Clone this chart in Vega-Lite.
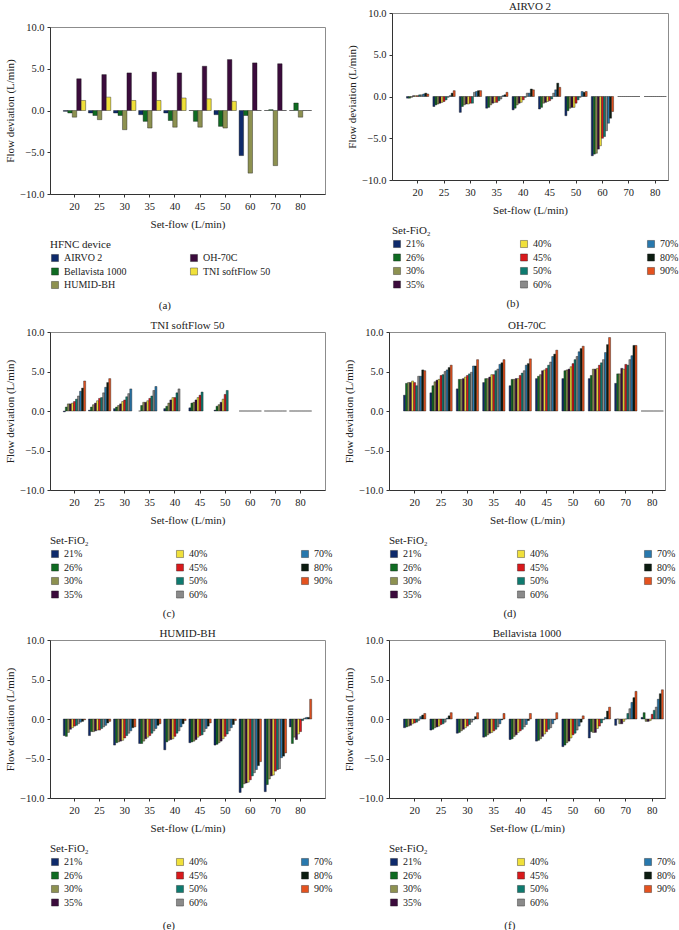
{
"$schema":"https://vega.github.io/schema/vega-lite/v6.json",
"padding":{"left":4,"top":0,"right":0,"bottom":0},
"config":{
"font":"Liberation Serif",
"view":{"stroke":"#8c8c8c","strokeWidth":1},
"axis":{"labelFont":"Liberation Serif","titleFont":"Liberation Serif","labelFontSize":10.5,"titleFontSize":11,"titleFontWeight":"normal","labelColor":"#222","titleColor":"#222","domainColor":"#333","tickColor":"#333","tickSize":3,"labelPadding":3,"grid":false},
"axisX":{"labelAngle":0,"labelPadding":4,"titlePadding":7,"bandPosition":0.5},
"axisY":{"titlePadding":4},
"legend":{"orient":"bottom","offset":9,"titleFont":"Liberation Serif","labelFont":"Liberation Serif","titleFontSize":11,"labelFontSize":10,"titleFontWeight":"normal","titleColor":"#222","labelColor":"#222","symbolType":"square","symbolSize":50,"symbolStrokeColor":"#222","symbolStrokeWidth":1,"rowPadding":3.5,"titlePadding":3,"labelOffset":4,"symbolOpacity":1},
"title":{"font":"Liberation Serif","fontSize":11,"fontWeight":"normal","color":"#222","offset":-4},
"bar":{"stroke":"#151515","strokeWidth":0.4}
},
"datasets":{
"dev":[
{"f":20,"d":"AIRVO 2","v":-0.1},{"f":25,"d":"AIRVO 2","v":-0.3},{"f":30,"d":"AIRVO 2","v":-0.3},{"f":35,"d":"AIRVO 2","v":-0.5},{"f":40,"d":"AIRVO 2","v":-0.3},{"f":45,"d":"AIRVO 2","v":0},{"f":50,"d":"AIRVO 2","v":-0.5},{"f":60,"d":"AIRVO 2","v":-5.4},{"f":70,"d":"AIRVO 2","v":0},{"f":80,"d":"AIRVO 2","v":0},
{"f":20,"d":"Bellavista 1000","v":-0.3},{"f":25,"d":"Bellavista 1000","v":-0.6},{"f":30,"d":"Bellavista 1000","v":-0.6},{"f":35,"d":"Bellavista 1000","v":-1.3},{"f":40,"d":"Bellavista 1000","v":-1.2},{"f":45,"d":"Bellavista 1000","v":-1.3},{"f":50,"d":"Bellavista 1000","v":-1.9},{"f":60,"d":"Bellavista 1000","v":-0.6},{"f":70,"d":"Bellavista 1000","v":0.1},{"f":80,"d":"Bellavista 1000","v":0.9},
{"f":20,"d":"HUMID-BH","v":-0.8},{"f":25,"d":"HUMID-BH","v":-1.1},{"f":30,"d":"HUMID-BH","v":-2.3},{"f":35,"d":"HUMID-BH","v":-2.1},{"f":40,"d":"HUMID-BH","v":-2.0},{"f":45,"d":"HUMID-BH","v":-2.0},{"f":50,"d":"HUMID-BH","v":-2.1},{"f":60,"d":"HUMID-BH","v":-7.5},{"f":70,"d":"HUMID-BH","v":-6.6},{"f":80,"d":"HUMID-BH","v":-0.8},
{"f":20,"d":"OH-70C","v":3.8},{"f":25,"d":"OH-70C","v":4.3},{"f":30,"d":"OH-70C","v":4.5},{"f":35,"d":"OH-70C","v":4.6},{"f":40,"d":"OH-70C","v":4.5},{"f":45,"d":"OH-70C","v":5.3},{"f":50,"d":"OH-70C","v":6.1},{"f":60,"d":"OH-70C","v":5.7},{"f":70,"d":"OH-70C","v":5.6},{"f":80,"d":"OH-70C","v":0},
{"f":20,"d":"TNI softFlow 50","v":1.2},{"f":25,"d":"TNI softFlow 50","v":1.6},{"f":30,"d":"TNI softFlow 50","v":1.2},{"f":35,"d":"TNI softFlow 50","v":1.2},{"f":40,"d":"TNI softFlow 50","v":1.5},{"f":45,"d":"TNI softFlow 50","v":1.4},{"f":50,"d":"TNI softFlow 50","v":1.1},{"f":60,"d":"TNI softFlow 50","v":0},{"f":70,"d":"TNI softFlow 50","v":0},{"f":80,"d":"TNI softFlow 50","v":0}
],
"airvo":[
{"f":20,"o":"21%","v":-0.2},{"f":20,"o":"26%","v":-0.2},{"f":20,"o":"30%","v":-0.1},{"f":20,"o":"35%","v":0.1},{"f":20,"o":"40%","v":0.1},{"f":20,"o":"45%","v":0.1},{"f":20,"o":"50%","v":0.2},{"f":20,"o":"60%","v":0.2},{"f":20,"o":"70%","v":0.3},{"f":20,"o":"80%","v":0.4},{"f":20,"o":"90%","v":0.3},
{"f":25,"o":"21%","v":-1.2},{"f":25,"o":"26%","v":-1.0},{"f":25,"o":"30%","v":-0.9},{"f":25,"o":"35%","v":-0.8},{"f":25,"o":"40%","v":-0.7},{"f":25,"o":"45%","v":-0.6},{"f":25,"o":"50%","v":-0.4},{"f":25,"o":"60%","v":-0.1},{"f":25,"o":"70%","v":0.1},{"f":25,"o":"80%","v":0.4},{"f":25,"o":"90%","v":0.7},
{"f":30,"o":"21%","v":-1.9},{"f":30,"o":"26%","v":-1.2},{"f":30,"o":"30%","v":-1.0},{"f":30,"o":"35%","v":-0.9},{"f":30,"o":"40%","v":-0.9},{"f":30,"o":"45%","v":-0.8},{"f":30,"o":"50%","v":-0.8},{"f":30,"o":"60%","v":0.5},{"f":30,"o":"70%","v":0.6},{"f":30,"o":"80%","v":0.7},{"f":30,"o":"90%","v":0.7},
{"f":35,"o":"21%","v":-1.4},{"f":35,"o":"26%","v":-1.3},{"f":35,"o":"30%","v":-1.0},{"f":35,"o":"35%","v":-0.8},{"f":35,"o":"40%","v":-0.7},{"f":35,"o":"45%","v":-0.7},{"f":35,"o":"50%","v":-0.5},{"f":35,"o":"60%","v":-0.3},{"f":35,"o":"70%","v":0.1},{"f":35,"o":"80%","v":0.2},{"f":35,"o":"90%","v":0.5},
{"f":40,"o":"21%","v":-1.6},{"f":40,"o":"26%","v":-1.4},{"f":40,"o":"30%","v":-1.0},{"f":40,"o":"35%","v":-0.8},{"f":40,"o":"40%","v":-0.7},{"f":40,"o":"45%","v":-0.4},{"f":40,"o":"50%","v":-0.1},{"f":40,"o":"60%","v":0.4},{"f":40,"o":"70%","v":0.4},{"f":40,"o":"80%","v":0.9},{"f":40,"o":"90%","v":0.8},
{"f":45,"o":"21%","v":-1.5},{"f":45,"o":"26%","v":-1.3},{"f":45,"o":"30%","v":-0.8},{"f":45,"o":"35%","v":-0.7},{"f":45,"o":"40%","v":-0.6},{"f":45,"o":"45%","v":-0.5},{"f":45,"o":"50%","v":-0.3},{"f":45,"o":"60%","v":0.4},{"f":45,"o":"70%","v":0.8},{"f":45,"o":"80%","v":1.6},{"f":45,"o":"90%","v":1.1},
{"f":50,"o":"21%","v":-2.3},{"f":50,"o":"26%","v":-1.7},{"f":50,"o":"30%","v":-1.4},{"f":50,"o":"35%","v":-1.3},{"f":50,"o":"40%","v":-1.3},{"f":50,"o":"45%","v":-0.8},{"f":50,"o":"50%","v":-0.4},{"f":50,"o":"60%","v":-0.1},{"f":50,"o":"70%","v":0.6},{"f":50,"o":"80%","v":0.5},{"f":50,"o":"90%","v":0.6},
{"f":60,"o":"21%","v":-7.1},{"f":60,"o":"26%","v":-6.9},{"f":60,"o":"30%","v":-6.8},{"f":60,"o":"35%","v":-6.3},{"f":60,"o":"40%","v":-5.9},{"f":60,"o":"45%","v":-5.0},{"f":60,"o":"50%","v":-4.8},{"f":60,"o":"60%","v":-4.1},{"f":60,"o":"70%","v":-3.2},{"f":60,"o":"80%","v":-2.6},{"f":60,"o":"90%","v":-1.8},
{"f":70,"o":"21%","v":0},{"f":70,"o":"26%","v":0},{"f":70,"o":"30%","v":0},{"f":70,"o":"35%","v":0},{"f":70,"o":"40%","v":0},{"f":70,"o":"45%","v":0},{"f":70,"o":"50%","v":0},{"f":70,"o":"60%","v":0},{"f":70,"o":"70%","v":0},{"f":70,"o":"80%","v":0},{"f":70,"o":"90%","v":0},
{"f":80,"o":"21%","v":0},{"f":80,"o":"26%","v":0},{"f":80,"o":"30%","v":0},{"f":80,"o":"35%","v":0},{"f":80,"o":"40%","v":0},{"f":80,"o":"45%","v":0},{"f":80,"o":"50%","v":0},{"f":80,"o":"60%","v":0},{"f":80,"o":"70%","v":0},{"f":80,"o":"80%","v":0},{"f":80,"o":"90%","v":0}
],
"tni":[
{"f":20,"o":"21%","v":-0.1},{"f":20,"o":"26%","v":0.5},{"f":20,"o":"30%","v":0.9},{"f":20,"o":"35%","v":0.9},{"f":20,"o":"40%","v":1.0},{"f":20,"o":"45%","v":1.2},{"f":20,"o":"50%","v":1.5},{"f":20,"o":"60%","v":1.9},{"f":20,"o":"70%","v":2.5},{"f":20,"o":"80%","v":2.9},{"f":20,"o":"90%","v":3.8},
{"f":25,"o":"21%","v":0.1},{"f":25,"o":"26%","v":0.5},{"f":25,"o":"30%","v":0.8},{"f":25,"o":"35%","v":1.0},{"f":25,"o":"40%","v":1.3},{"f":25,"o":"45%","v":1.6},{"f":25,"o":"50%","v":1.7},{"f":25,"o":"60%","v":2.3},{"f":25,"o":"70%","v":3.0},{"f":25,"o":"80%","v":3.6},{"f":25,"o":"90%","v":4.1},
{"f":30,"o":"21%","v":0.3},{"f":30,"o":"26%","v":0.5},{"f":30,"o":"30%","v":0.7},{"f":30,"o":"35%","v":0.9},{"f":30,"o":"40%","v":1.2},{"f":30,"o":"45%","v":1.4},{"f":30,"o":"50%","v":1.8},{"f":30,"o":"60%","v":2.2},{"f":30,"o":"70%","v":2.8},
{"f":35,"o":"21%","v":0.0},{"f":35,"o":"26%","v":0.7},{"f":35,"o":"30%","v":1.1},{"f":35,"o":"35%","v":1.1},{"f":35,"o":"40%","v":1.3},{"f":35,"o":"45%","v":1.6},{"f":35,"o":"50%","v":1.9},{"f":35,"o":"60%","v":2.6},{"f":35,"o":"70%","v":3.1},
{"f":40,"o":"21%","v":0.3},{"f":40,"o":"26%","v":0.6},{"f":40,"o":"30%","v":1.0},{"f":40,"o":"35%","v":1.4},{"f":40,"o":"40%","v":1.7},{"f":40,"o":"45%","v":1.7},{"f":40,"o":"50%","v":2.3},{"f":40,"o":"60%","v":2.8},
{"f":45,"o":"21%","v":0.4},{"f":45,"o":"26%","v":1.0},{"f":45,"o":"30%","v":1.1},{"f":45,"o":"35%","v":1.4},{"f":45,"o":"40%","v":1.7},{"f":45,"o":"45%","v":2.0},{"f":45,"o":"50%","v":2.4},
{"f":50,"o":"21%","v":0.1},{"f":50,"o":"26%","v":0.6},{"f":50,"o":"30%","v":0.8},{"f":50,"o":"35%","v":1.1},{"f":50,"o":"40%","v":1.5},{"f":50,"o":"45%","v":2.1},{"f":50,"o":"50%","v":2.6},
{"f":60,"o":"21%","v":0},{"f":60,"o":"26%","v":0},{"f":60,"o":"30%","v":0},{"f":60,"o":"35%","v":0},{"f":60,"o":"40%","v":0},{"f":60,"o":"45%","v":0},{"f":60,"o":"50%","v":0},{"f":60,"o":"60%","v":0},{"f":60,"o":"70%","v":0},{"f":60,"o":"80%","v":0},{"f":60,"o":"90%","v":0},
{"f":70,"o":"21%","v":0},{"f":70,"o":"26%","v":0},{"f":70,"o":"30%","v":0},{"f":70,"o":"35%","v":0},{"f":70,"o":"40%","v":0},{"f":70,"o":"45%","v":0},{"f":70,"o":"50%","v":0},{"f":70,"o":"60%","v":0},{"f":70,"o":"70%","v":0},{"f":70,"o":"80%","v":0},{"f":70,"o":"90%","v":0},
{"f":80,"o":"21%","v":0},{"f":80,"o":"26%","v":0},{"f":80,"o":"30%","v":0},{"f":80,"o":"35%","v":0},{"f":80,"o":"40%","v":0},{"f":80,"o":"45%","v":0},{"f":80,"o":"50%","v":0},{"f":80,"o":"60%","v":0},{"f":80,"o":"70%","v":0},{"f":80,"o":"80%","v":0},{"f":80,"o":"90%","v":0}
],
"oh":[
{"f":20,"o":"21%","v":2.0},{"f":20,"o":"26%","v":3.5},{"f":20,"o":"30%","v":3.6},{"f":20,"o":"35%","v":3.6},{"f":20,"o":"40%","v":3.8},{"f":20,"o":"45%","v":3.6},{"f":20,"o":"50%","v":3.2},{"f":20,"o":"60%","v":4.4},{"f":20,"o":"70%","v":4.4},{"f":20,"o":"80%","v":5.2},{"f":20,"o":"90%","v":5.1},
{"f":25,"o":"21%","v":2.3},{"f":25,"o":"26%","v":3.2},{"f":25,"o":"30%","v":3.7},{"f":25,"o":"35%","v":3.9},{"f":25,"o":"40%","v":4.0},{"f":25,"o":"45%","v":4.5},{"f":25,"o":"50%","v":4.6},{"f":25,"o":"60%","v":5.0},{"f":25,"o":"70%","v":5.2},{"f":25,"o":"80%","v":5.5},{"f":25,"o":"90%","v":5.8},
{"f":30,"o":"21%","v":2.8},{"f":30,"o":"26%","v":4.0},{"f":30,"o":"30%","v":4.0},{"f":30,"o":"35%","v":4.1},{"f":30,"o":"40%","v":4.3},{"f":30,"o":"45%","v":4.5},{"f":30,"o":"50%","v":4.7},{"f":30,"o":"60%","v":4.9},{"f":30,"o":"70%","v":5.7},{"f":30,"o":"80%","v":5.7},{"f":30,"o":"90%","v":6.5},
{"f":35,"o":"21%","v":3.6},{"f":35,"o":"26%","v":4.1},{"f":35,"o":"30%","v":4.1},{"f":35,"o":"35%","v":4.3},{"f":35,"o":"40%","v":4.6},{"f":35,"o":"45%","v":4.6},{"f":35,"o":"50%","v":5.1},{"f":35,"o":"60%","v":5.3},{"f":35,"o":"70%","v":5.9},{"f":35,"o":"80%","v":6.1},{"f":35,"o":"90%","v":6.5},
{"f":40,"o":"21%","v":3.2},{"f":40,"o":"26%","v":4.0},{"f":40,"o":"30%","v":4.0},{"f":40,"o":"35%","v":4.1},{"f":40,"o":"40%","v":4.1},{"f":40,"o":"45%","v":4.5},{"f":40,"o":"50%","v":4.8},{"f":40,"o":"60%","v":5.1},{"f":40,"o":"70%","v":5.8},{"f":40,"o":"80%","v":6.0},{"f":40,"o":"90%","v":6.6},
{"f":45,"o":"21%","v":4.1},{"f":45,"o":"26%","v":4.4},{"f":45,"o":"30%","v":4.6},{"f":45,"o":"35%","v":5.1},{"f":45,"o":"40%","v":5.2},{"f":45,"o":"45%","v":5.4},{"f":45,"o":"50%","v":5.8},{"f":45,"o":"60%","v":6.2},{"f":45,"o":"70%","v":6.9},{"f":45,"o":"80%","v":7.2},{"f":45,"o":"90%","v":7.7},
{"f":50,"o":"21%","v":4.1},{"f":50,"o":"26%","v":5.1},{"f":50,"o":"30%","v":5.2},{"f":50,"o":"35%","v":5.3},{"f":50,"o":"40%","v":5.6},{"f":50,"o":"45%","v":6.0},{"f":50,"o":"50%","v":6.5},{"f":50,"o":"60%","v":6.9},{"f":50,"o":"70%","v":7.5},{"f":50,"o":"80%","v":7.9},{"f":50,"o":"90%","v":8.2},
{"f":60,"o":"21%","v":4.1},{"f":60,"o":"26%","v":4.5},{"f":60,"o":"30%","v":5.3},{"f":60,"o":"35%","v":5.3},{"f":60,"o":"40%","v":5.4},{"f":60,"o":"45%","v":5.8},{"f":60,"o":"50%","v":6.1},{"f":60,"o":"60%","v":6.5},{"f":60,"o":"70%","v":7.4},{"f":60,"o":"80%","v":8.4},{"f":60,"o":"90%","v":9.3},
{"f":70,"o":"21%","v":3.5},{"f":70,"o":"26%","v":4.7},{"f":70,"o":"30%","v":4.7},{"f":70,"o":"35%","v":5.4},{"f":70,"o":"40%","v":5.3},{"f":70,"o":"45%","v":5.9},{"f":70,"o":"50%","v":5.8},{"f":70,"o":"60%","v":6.5},{"f":70,"o":"70%","v":7.0},{"f":70,"o":"80%","v":8.3},{"f":70,"o":"90%","v":8.3},
{"f":80,"o":"21%","v":0},{"f":80,"o":"26%","v":0},{"f":80,"o":"30%","v":0},{"f":80,"o":"35%","v":0},{"f":80,"o":"40%","v":0},{"f":80,"o":"45%","v":0},{"f":80,"o":"50%","v":0},{"f":80,"o":"60%","v":0},{"f":80,"o":"70%","v":0},{"f":80,"o":"80%","v":0},{"f":80,"o":"90%","v":0}
],
"humid":[
{"f":20,"o":"21%","v":-2.1},{"f":20,"o":"26%","v":-2.2},{"f":20,"o":"30%","v":-1.7},{"f":20,"o":"35%","v":-1.3},{"f":20,"o":"40%","v":-1.1},{"f":20,"o":"45%","v":-0.9},{"f":20,"o":"50%","v":-0.8},{"f":20,"o":"60%","v":-0.6},{"f":20,"o":"70%","v":-0.4},{"f":20,"o":"80%","v":-0.3},{"f":20,"o":"90%","v":-0.1},
{"f":25,"o":"21%","v":-2.1},{"f":25,"o":"26%","v":-1.6},{"f":25,"o":"30%","v":-1.6},{"f":25,"o":"35%","v":-1.5},{"f":25,"o":"40%","v":-1.4},{"f":25,"o":"45%","v":-1.4},{"f":25,"o":"50%","v":-1.2},{"f":25,"o":"60%","v":-1.0},{"f":25,"o":"70%","v":-0.8},{"f":25,"o":"80%","v":-0.5},{"f":25,"o":"90%","v":-0.3},
{"f":30,"o":"21%","v":-3.3},{"f":30,"o":"26%","v":-3.0},{"f":30,"o":"30%","v":-2.9},{"f":30,"o":"35%","v":-2.8},{"f":30,"o":"40%","v":-2.7},{"f":30,"o":"45%","v":-2.4},{"f":30,"o":"50%","v":-2.1},{"f":30,"o":"60%","v":-1.8},{"f":30,"o":"70%","v":-1.5},{"f":30,"o":"80%","v":-1.1},{"f":30,"o":"90%","v":-1.0},
{"f":35,"o":"21%","v":-3.1},{"f":35,"o":"26%","v":-3.1},{"f":35,"o":"30%","v":-2.8},{"f":35,"o":"35%","v":-2.5},{"f":35,"o":"40%","v":-2.3},{"f":35,"o":"45%","v":-2.1},{"f":35,"o":"50%","v":-1.8},{"f":35,"o":"60%","v":-1.5},{"f":35,"o":"70%","v":-1.2},{"f":35,"o":"80%","v":-0.8},{"f":35,"o":"90%","v":-0.6},
{"f":40,"o":"21%","v":-3.9},{"f":40,"o":"26%","v":-2.9},{"f":40,"o":"30%","v":-2.7},{"f":40,"o":"35%","v":-2.6},{"f":40,"o":"40%","v":-2.5},{"f":40,"o":"45%","v":-2.2},{"f":40,"o":"50%","v":-1.8},{"f":40,"o":"60%","v":-1.5},{"f":40,"o":"70%","v":-1.0},{"f":40,"o":"80%","v":-0.6},{"f":40,"o":"90%","v":-0.2},
{"f":45,"o":"21%","v":-3.0},{"f":45,"o":"26%","v":-2.9},{"f":45,"o":"30%","v":-2.8},{"f":45,"o":"35%","v":-2.6},{"f":45,"o":"40%","v":-2.3},{"f":45,"o":"45%","v":-2.1},{"f":45,"o":"50%","v":-2.0},{"f":45,"o":"60%","v":-1.6},{"f":45,"o":"70%","v":-1.2},{"f":45,"o":"80%","v":-0.9},{"f":45,"o":"90%","v":-0.5},
{"f":50,"o":"21%","v":-3.3},{"f":50,"o":"26%","v":-3.2},{"f":50,"o":"30%","v":-3.0},{"f":50,"o":"35%","v":-2.8},{"f":50,"o":"40%","v":-2.5},{"f":50,"o":"45%","v":-2.2},{"f":50,"o":"50%","v":-1.9},{"f":50,"o":"60%","v":-1.5},{"f":50,"o":"70%","v":-1.1},{"f":50,"o":"80%","v":-0.7},{"f":50,"o":"90%","v":-0.2},
{"f":60,"o":"21%","v":-9.3},{"f":60,"o":"26%","v":-8.7},{"f":60,"o":"30%","v":-8.2},{"f":60,"o":"35%","v":-8.1},{"f":60,"o":"40%","v":-8.0},{"f":60,"o":"45%","v":-7.7},{"f":60,"o":"50%","v":-7.2},{"f":60,"o":"60%","v":-6.8},{"f":60,"o":"70%","v":-6.4},{"f":60,"o":"80%","v":-5.9},{"f":60,"o":"90%","v":-5.4},
{"f":70,"o":"21%","v":-9.2},{"f":70,"o":"26%","v":-8.3},{"f":70,"o":"30%","v":-7.6},{"f":70,"o":"35%","v":-7.2},{"f":70,"o":"40%","v":-7.1},{"f":70,"o":"45%","v":-6.6},{"f":70,"o":"50%","v":-6.4},{"f":70,"o":"60%","v":-6.3},{"f":70,"o":"70%","v":-4.9},{"f":70,"o":"80%","v":-4.7},{"f":70,"o":"90%","v":-4.3},
{"f":80,"o":"21%","v":-1.0},{"f":80,"o":"26%","v":-3.1},{"f":80,"o":"30%","v":-2.3},{"f":80,"o":"35%","v":-2.6},{"f":80,"o":"40%","v":-1.9},{"f":80,"o":"45%","v":-1.6},{"f":80,"o":"50%","v":-0.2},{"f":80,"o":"60%","v":0.1},{"f":80,"o":"70%","v":0.2},{"f":80,"o":"80%","v":0.2},{"f":80,"o":"90%","v":2.5}
],
"bella":[
{"f":20,"o":"21%","v":-1.1},{"f":20,"o":"26%","v":-1.0},{"f":20,"o":"30%","v":-0.9},{"f":20,"o":"35%","v":-0.8},{"f":20,"o":"40%","v":-0.6},{"f":20,"o":"45%","v":-0.5},{"f":20,"o":"50%","v":-0.4},{"f":20,"o":"60%","v":-0.2},{"f":20,"o":"70%","v":0.3},{"f":20,"o":"80%","v":0.5},{"f":20,"o":"90%","v":0.7},
{"f":25,"o":"21%","v":-1.4},{"f":25,"o":"26%","v":-1.3},{"f":25,"o":"30%","v":-1.1},{"f":25,"o":"35%","v":-1.0},{"f":25,"o":"40%","v":-0.9},{"f":25,"o":"45%","v":-0.7},{"f":25,"o":"50%","v":-0.6},{"f":25,"o":"60%","v":-0.4},{"f":25,"o":"70%","v":0.1},{"f":25,"o":"80%","v":0.4},{"f":25,"o":"90%","v":0.8},
{"f":30,"o":"21%","v":-1.8},{"f":30,"o":"26%","v":-1.7},{"f":30,"o":"30%","v":-1.5},{"f":30,"o":"35%","v":-1.3},{"f":30,"o":"40%","v":-1.1},{"f":30,"o":"45%","v":-0.9},{"f":30,"o":"50%","v":-0.7},{"f":30,"o":"60%","v":-0.4},{"f":30,"o":"70%","v":-0.1},{"f":30,"o":"80%","v":0.3},{"f":30,"o":"90%","v":0.8},
{"f":35,"o":"21%","v":-2.3},{"f":35,"o":"26%","v":-2.2},{"f":35,"o":"30%","v":-2.0},{"f":35,"o":"35%","v":-1.8},{"f":35,"o":"40%","v":-1.7},{"f":35,"o":"45%","v":-1.5},{"f":35,"o":"50%","v":-1.3},{"f":35,"o":"60%","v":-1.0},{"f":35,"o":"70%","v":-0.6},{"f":35,"o":"80%","v":-0.1},{"f":35,"o":"90%","v":0.7},
{"f":40,"o":"21%","v":-2.6},{"f":40,"o":"26%","v":-2.5},{"f":40,"o":"30%","v":-2.2},{"f":40,"o":"35%","v":-2.0},{"f":40,"o":"40%","v":-1.7},{"f":40,"o":"45%","v":-1.5},{"f":40,"o":"50%","v":-1.3},{"f":40,"o":"60%","v":-1.0},{"f":40,"o":"70%","v":-0.7},{"f":40,"o":"80%","v":-0.2},{"f":40,"o":"90%","v":0.7},
{"f":45,"o":"21%","v":-2.8},{"f":45,"o":"26%","v":-2.7},{"f":45,"o":"30%","v":-2.5},{"f":45,"o":"35%","v":-2.2},{"f":45,"o":"40%","v":-1.9},{"f":45,"o":"45%","v":-1.6},{"f":45,"o":"50%","v":-1.3},{"f":45,"o":"60%","v":-1.1},{"f":45,"o":"70%","v":-0.6},{"f":45,"o":"80%","v":-0.1},{"f":45,"o":"90%","v":0.8},
{"f":50,"o":"21%","v":-3.5},{"f":50,"o":"26%","v":-3.3},{"f":50,"o":"30%","v":-3.0},{"f":50,"o":"35%","v":-2.8},{"f":50,"o":"40%","v":-2.4},{"f":50,"o":"45%","v":-2.0},{"f":50,"o":"50%","v":-1.8},{"f":50,"o":"60%","v":-1.4},{"f":50,"o":"70%","v":-0.9},{"f":50,"o":"80%","v":-0.4},{"f":50,"o":"90%","v":0.4},
{"f":60,"o":"21%","v":-2.4},{"f":60,"o":"26%","v":-1.6},{"f":60,"o":"30%","v":-1.7},{"f":60,"o":"35%","v":-1.7},{"f":60,"o":"40%","v":-1.2},{"f":60,"o":"45%","v":-0.9},{"f":60,"o":"50%","v":-0.5},{"f":60,"o":"60%","v":-0.1},{"f":60,"o":"70%","v":0.2},{"f":60,"o":"80%","v":1.0},{"f":60,"o":"90%","v":1.5},
{"f":70,"o":"21%","v":-0.8},{"f":70,"o":"26%","v":0.0},{"f":70,"o":"30%","v":-0.6},{"f":70,"o":"35%","v":-0.6},{"f":70,"o":"40%","v":-0.3},{"f":70,"o":"45%","v":0.0},{"f":70,"o":"50%","v":0.7},{"f":70,"o":"60%","v":1.3},{"f":70,"o":"70%","v":2.1},{"f":70,"o":"80%","v":2.7},{"f":70,"o":"90%","v":3.5},
{"f":80,"o":"21%","v":0.2},{"f":80,"o":"26%","v":0.8},{"f":80,"o":"30%","v":-0.3},{"f":80,"o":"35%","v":-0.3},{"f":80,"o":"40%","v":-0.2},{"f":80,"o":"45%","v":0.6},{"f":80,"o":"50%","v":1.1},{"f":80,"o":"60%","v":1.5},{"f":80,"o":"70%","v":2.5},{"f":80,"o":"80%","v":3.2},{"f":80,"o":"90%","v":3.7}
],
"blank":[]
},
"spacing":8,
"resolve":{"scale":{"x":"independent","y":"independent","xOffset":"independent","color":"independent"},"legend":{"color":"independent"}},
"vconcat":[
{"hconcat":[
{"title":{"text":"(a)","orient":"bottom","anchor":"middle","frame":"bounds","offset":9},
 "spacing":7,
 "resolve":{"scale":{"x":"independent","y":"independent","xOffset":"independent","color":"independent"},"legend":{"color":"independent"}},
 "vconcat":[
 {"width":275,"height":1,"data":{"name":"blank"},"mark":{"type":"point"},"encoding":{},"view":{"stroke":null}},
 {
  "width":275,"height":167,
  "data":{"name":"dev"},
  "mark":{"type":"bar"},
  "encoding":{
   "x":{"field":"f","type":"ordinal","scale":{"paddingInner":0.11,"paddingOuter":0.53},"axis":{"title":"Set-flow (L/min)"}},
   "xOffset":{"field":"d","type":"nominal","scale":{"paddingInner":0,"paddingOuter":0}},
   "y":{"field":"v","type":"quantitative","scale":{"domain":[-10,10],"nice":false},"axis":{"values":[-10,-5,0,5,10],"format":".1f","title":"Flow deviation (L/min)"}},
   "color":{"field":"d","type":"nominal","scale":{"domain":["AIRVO 2","OH-70C","Bellavista 1000","TNI softFlow 50","HUMID-BH"],"range":["#0e2a6b","#3b0b3c","#0f6b22","#f0e03a","#8d9150"]},"legend":{"title":"HFNC device","columns":2,"columnPadding":62}}
  }
 }]},
{"title":{"text":"(b)","orient":"bottom","anchor":"middle","frame":"bounds","offset":7},
 "resolve":{"scale":{"x":"independent","y":"independent","xOffset":"independent","color":"independent"},"legend":{"color":"independent"}},
 "vconcat":[{
  "title":{"text":"AIRVO 2","anchor":"middle","frame":"group"},
  "width":276,"height":167,
  "data":{"name":"airvo"},
  "mark":{"type":"bar"},
  "encoding":{
   "x":{"field":"f","type":"ordinal","scale":{"paddingInner":0.155,"paddingOuter":0.305,"align":0.9},"axis":{"title":"Set-flow (L/min)"}},
   "xOffset":{"field":"o","type":"nominal","scale":{"paddingInner":0,"paddingOuter":0}},
   "y":{"field":"v","type":"quantitative","scale":{"domain":[-10,10],"nice":false},"axis":{"values":[-10,-5,0,5,10],"format":".1f","title":"Flow deviation (L/min)"}},
   "color":{"field":"o","type":"nominal","scale":{"domain":["21%","40%","70%","26%","45%","80%","30%","50%","90%","35%","60%"],"range":["#0e2a6b","#f0e03a","#2878ad","#0f6b22","#d8191c","#0c1c10","#8d9150","#0e7a6f","#e4521f","#3b0b3c","#8a8a8a"]},"legend":{"title":"Set-FiO₂","columns":3,"columnPadding":94}}
  }
 }]}
],
"spacing":20,
"resolve":{"scale":{"x":"independent","y":"independent","xOffset":"independent","color":"independent"},"legend":{"color":"independent"}}},
{"hconcat":[
{"title":{"text":"(c)","orient":"bottom","anchor":"middle","frame":"bounds","offset":7},
 "resolve":{"scale":{"x":"independent","y":"independent","xOffset":"independent","color":"independent"},"legend":{"color":"independent"}},
 "vconcat":[{
  "title":{"text":"TNI softFlow 50","anchor":"middle","frame":"group"},
  "width":275,"height":158,
  "data":{"name":"tni"},
  "mark":{"type":"bar"},
  "encoding":{
   "x":{"field":"f","type":"ordinal","scale":{"paddingInner":0.11,"paddingOuter":0.53},"axis":{"title":"Set-flow (L/min)"}},
   "xOffset":{"field":"o","type":"nominal","scale":{"domain":["21%","26%","30%","35%","40%","45%","50%","60%","70%","80%","90%"],"paddingInner":0,"paddingOuter":0}},
   "y":{"field":"v","type":"quantitative","scale":{"domain":[-10,10],"nice":false},"axis":{"values":[-10,-5,0,5,10],"format":".1f","title":"Flow deviation (L/min)"}},
   "color":{"field":"o","type":"nominal","scale":{"domain":["21%","40%","70%","26%","45%","80%","30%","50%","90%","35%","60%"],"range":["#0e2a6b","#f0e03a","#2878ad","#0f6b22","#d8191c","#0c1c10","#8d9150","#0e7a6f","#e4521f","#3b0b3c","#8a8a8a"]},"legend":{"title":"Set-FiO₂","columns":3,"columnPadding":92}}
  }
 }]},
{"title":{"text":"(d)","orient":"bottom","anchor":"middle","frame":"bounds","offset":7},
 "resolve":{"scale":{"x":"independent","y":"independent","xOffset":"independent","color":"independent"},"legend":{"color":"independent"}},
 "vconcat":[{
  "title":{"text":"OH-70C","anchor":"middle","frame":"group"},
  "width":276,"height":158,
  "data":{"name":"oh"},
  "mark":{"type":"bar"},
  "encoding":{
   "x":{"field":"f","type":"ordinal","scale":{"paddingInner":0.155,"paddingOuter":0.305,"align":0.9},"axis":{"title":"Set-flow (L/min)"}},
   "xOffset":{"field":"o","type":"nominal","scale":{"paddingInner":0,"paddingOuter":0}},
   "y":{"field":"v","type":"quantitative","scale":{"domain":[-10,10],"nice":false},"axis":{"values":[-10,-5,0,5,10],"format":".1f","title":"Flow deviation (L/min)"}},
   "color":{"field":"o","type":"nominal","scale":{"domain":["21%","40%","70%","26%","45%","80%","30%","50%","90%","35%","60%"],"range":["#0e2a6b","#f0e03a","#2878ad","#0f6b22","#d8191c","#0c1c10","#8d9150","#0e7a6f","#e4521f","#3b0b3c","#8a8a8a"]},"legend":{"title":"Set-FiO₂","columns":3,"columnPadding":94}}
  }
 }]}
],
"spacing":9,
"resolve":{"scale":{"x":"independent","y":"independent","xOffset":"independent","color":"independent"},"legend":{"color":"independent"}}},
{"hconcat":[
{"title":{"text":"(e)","orient":"bottom","anchor":"middle","frame":"bounds","offset":11},
 "resolve":{"scale":{"x":"independent","y":"independent","xOffset":"independent","color":"independent"},"legend":{"color":"independent"}},
 "vconcat":[{
  "title":{"text":"HUMID-BH","anchor":"middle","frame":"group"},
  "width":275,"height":158,
  "data":{"name":"humid"},
  "mark":{"type":"bar"},
  "encoding":{
   "x":{"field":"f","type":"ordinal","scale":{"paddingInner":0.11,"paddingOuter":0.53},"axis":{"title":"Set-flow (L/min)"}},
   "xOffset":{"field":"o","type":"nominal","scale":{"paddingInner":0,"paddingOuter":0}},
   "y":{"field":"v","type":"quantitative","scale":{"domain":[-10,10],"nice":false},"axis":{"values":[-10,-5,0,5,10],"format":".1f","title":"Flow deviation (L/min)"}},
   "color":{"field":"o","type":"nominal","scale":{"domain":["21%","40%","70%","26%","45%","80%","30%","50%","90%","35%","60%"],"range":["#0e2a6b","#f0e03a","#2878ad","#0f6b22","#d8191c","#0c1c10","#8d9150","#0e7a6f","#e4521f","#3b0b3c","#8a8a8a"]},"legend":{"title":"Set-FiO₂","columns":3,"columnPadding":92}}
  }
 }]},
{"title":{"text":"(f)","orient":"bottom","anchor":"middle","frame":"bounds","offset":11},
 "resolve":{"scale":{"x":"independent","y":"independent","xOffset":"independent","color":"independent"},"legend":{"color":"independent"}},
 "vconcat":[{
  "title":{"text":"Bellavista 1000","anchor":"middle","frame":"group"},
  "width":276,"height":158,
  "data":{"name":"bella"},
  "mark":{"type":"bar"},
  "encoding":{
   "x":{"field":"f","type":"ordinal","scale":{"paddingInner":0.155,"paddingOuter":0.305,"align":0.9},"axis":{"title":"Set-flow (L/min)"}},
   "xOffset":{"field":"o","type":"nominal","scale":{"paddingInner":0,"paddingOuter":0}},
   "y":{"field":"v","type":"quantitative","scale":{"domain":[-10,10],"nice":false},"axis":{"values":[-10,-5,0,5,10],"format":".1f","title":"Flow deviation (L/min)"}},
   "color":{"field":"o","type":"nominal","scale":{"domain":["21%","40%","70%","26%","45%","80%","30%","50%","90%","35%","60%"],"range":["#0e2a6b","#f0e03a","#2878ad","#0f6b22","#d8191c","#0c1c10","#8d9150","#0e7a6f","#e4521f","#3b0b3c","#8a8a8a"]},"legend":{"title":"Set-FiO₂","columns":3,"columnPadding":94}}
  }
 }]}
],
"spacing":9,
"resolve":{"scale":{"x":"independent","y":"independent","xOffset":"independent","color":"independent"},"legend":{"color":"independent"}}}
]
}
